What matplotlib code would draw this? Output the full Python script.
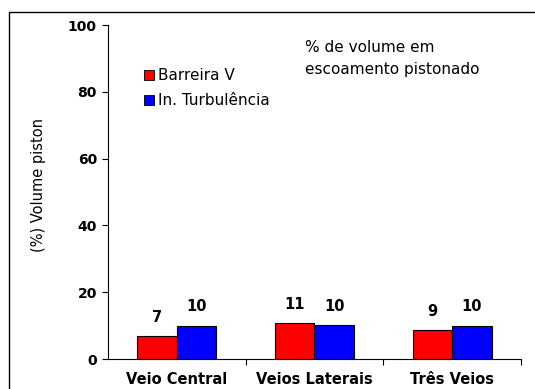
import matplotlib.pyplot as plt
import numpy as np
from matplotlib.patches import Rectangle

plt.rcParams['font.family'] = ['DejaVu Sans']

# categories and series values
categorias = ['Veio Central', 'Veios Laterais', 'Três Veios']
barreira_v = [7, 10.8, 8.8]
turbulencia = [10, 10.2, 10]
series_nomes = ['Barreira V', 'In. Turbulência']

fig = plt.figure(figsize=(5.35, 3.89), dpi=100)
ax = fig.add_axes([0.2019, 0.0771, 0.7719, 0.8586])

# outer frame of the chart area
fig.patches.append(Rectangle((9 / 535, -0.1), 1.2, 1 - 12 / 389 + 0.1,
                             transform=fig.transFigure, fill=False,
                             edgecolor='black', linewidth=1.0))

x = np.arange(len(categorias))
w = 0.286
b1 = ax.bar(x - w / 2, barreira_v, w, color='#ff0000', edgecolor='black', linewidth=0.8)
b2 = ax.bar(x + w / 2, turbulencia, w, color='#0000ff', edgecolor='black', linewidth=0.8)

for bars in (b1, b2):
    for r in bars:
        ax.annotate('%.0f' % r.get_height(), (r.get_x() + r.get_width() / 2, r.get_height()),
                    xytext=(0, 8), textcoords='offset points',
                    ha='center', va='bottom', fontsize=10.5, fontweight='bold')

ax.set_xlim(-0.5, 2.5)
ax.set_ylim(0, 100)
ax.set_yticks([0, 20, 40, 60, 80, 100])
ax.set_yticklabels(['0', '20', '40', '60', '80', '100'], fontweight='bold', fontsize=10)
ax.tick_params(axis='y', direction='out', length=4, width=0.8, pad=4)

# category ticks sit between groups, labels under the groups
ax.set_xticks([0.5, 1.5, 2.5])
ax.set_xticklabels([])
ax.set_xticks(x, minor=True)
ax.set_xticklabels(categorias, minor=True, fontweight='bold', fontsize=10.5)
ax.tick_params(axis='x', which='major', direction='out', length=4, width=0.8)
ax.tick_params(axis='x', which='minor', length=0, pad=9)

ax.spines['top'].set_visible(False)
ax.spines['right'].set_visible(False)
ax.spines['left'].set_linewidth(0.8)
ax.spines['bottom'].set_linewidth(0.8)

ax.set_ylabel('(%) Volume piston', fontsize=10.5)
ax.yaxis.set_label_coords(-0.15, 0.52)

ax.text(0.477, 0.955, '% de volume em\nescoamento pistonado', transform=ax.transAxes,
        fontsize=11, va='top', ha='left', linespacing=1.6)

# legend
for i, (nome, cor) in enumerate(zip(series_nomes, ['#ff0000', '#0000ff'])):
    yy = 0.850 - i * 0.075
    ax.plot([0.099], [yy], marker='s', markersize=7, color=cor, markeredgecolor='black',
            markeredgewidth=0.6, transform=ax.transAxes, clip_on=False)
    ax.text(0.12, yy, nome, transform=ax.transAxes, fontsize=11, va='center', ha='left')

fig.savefig('out.png', dpi=100)
